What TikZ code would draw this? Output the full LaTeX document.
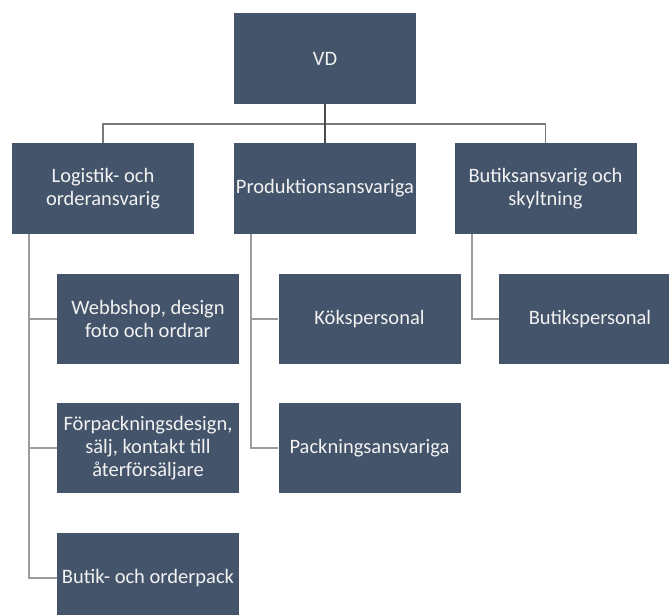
\documentclass[tikz,border=0pt]{standalone}
\usepackage{fontspec}
\setmainfont{Carlito}
\definecolor{boxfill}{HTML}{44546A}
\definecolor{boxtext}{HTML}{F2F2F2}
\definecolor{mainline}{HTML}{4A4A4A}
\definecolor{busline}{HTML}{7A7A7A}
\definecolor{subline}{HTML}{9C9C9C}
\tikzset{
  orgbox/.style={rectangle, fill=boxfill, text=boxtext, minimum width=182pt,
    minimum height=90pt, inner sep=0pt, align=center,
    font=\fontsize{20.5}{23}\selectfont},
  topline/.style={draw=mainline, line width=1.1pt},
  busconn/.style={draw=busline, line width=1.3pt},
  subconn/.style={draw=subline, line width=1.8pt}
}
\begin{document}
\begin{tikzpicture}[x=1pt, y=-1pt]
  \useasboundingbox (0,0) rectangle (669,615);
  \clip (0,0) rectangle (669,615);
  % top level
  \node[orgbox, minimum height=91pt] (vd) at (325,58.5) {VD};
  % second level
  \node[orgbox, minimum height=91pt] (log) at (103,188.5) {Logistik- och\\orderansvarig};
  \node[orgbox, minimum height=91pt] (prod) at (325,188.5) {Produktionsansvariga};
  \node[orgbox, minimum height=91pt] (butik) at (545.5,188.5) {Butiksansvarig och\\skyltning};
  % third level
  \node[orgbox] (web) at (148,319) {Webbshop, design\\foto och ordrar};
  \node[orgbox] (forp) at (148,448) {Förpackningsdesign,\\sälj, kontakt till\\återförsäljare};
  \node[orgbox] (order) at (148,578) {Butik- och orderpack};
  \node[orgbox] (kok) at (369.5,319) {Kökspersonal};
  \node[orgbox] (pack) at (369.5,448) {Packningsansvariga};
  \node[orgbox] (bpers) at (590,319) {Butikspersonal};
  % connectors from the top
  \coordinate (bus) at (325,124);
  \draw[busconn] (bus) -| (log.north);
  \draw[busconn] (bus) -| (butik.north);
  \draw[topline] (vd.south) -- (prod.north);
  % stems under the second level
  \coordinate (logstem) at (29,234);
  \coordinate (prodstem) at (251,234);
  \coordinate (butstem) at (472,234);
  \draw[subconn] (logstem) |- (web.west);
  \draw[subconn] (logstem) |- (forp.west);
  \draw[subconn] (logstem) |- (order.west);
  \draw[subconn] (prodstem) |- (kok.west);
  \draw[subconn] (prodstem) |- (pack.west);
  \draw[subconn] (butstem) |- (bpers.west);
\end{tikzpicture}
\end{document}
